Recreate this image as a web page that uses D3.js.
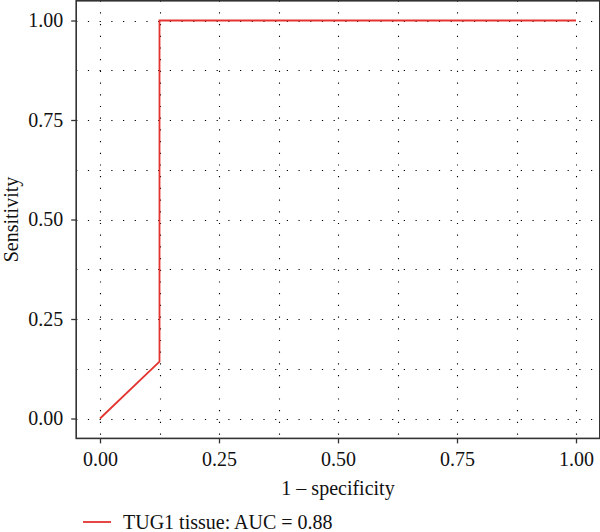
<!DOCTYPE html>
<head>
  <meta charset="utf-8">
  <script src="https://cdn.jsdelivr.net/npm/d3@7"></script>
  <style>
    body { margin: 0; background: #fff; }
    text { font-family: "Liberation Serif", "Times New Roman", serif; fill: #111; }
  </style>
</head>
<body>

<svg width="600" height="532"></svg>

<script type="text/javascript">
// ROC points
var fpr = [0, 0.125, 0.125, 1];
var tpr = [0, 0.143, 1, 1];
var tickValues = [0, 0.25, 0.5, 0.75, 1];
var gridValues = [0, 0.125, 0.25, 0.375, 0.5, 0.625, 0.75, 0.875, 1];
var seriesName = "TUG1 tissue: AUC = 0.88";
var xTitle = "1 \u2013 specificity", yTitle = "Sensitivity";

var lineColor = "#e3342f", frameColor = "#333";

var svg = d3.select("svg");

// scales: data 0..1, panel padded by 5% like ggplot
var x = d3.scaleLinear().domain([0, 1]).range([100, 576]);
var y = d3.scaleLinear().domain([0, 1]).range([418.5, 20.5]);
var x0 = x(-0.05), x1 = x(1.05), y0 = y(-0.05), y1 = y(1.05);

// dotted grid, majors and minors alike
var grid = svg.append("g")
  .attr("stroke", "#000")
  .attr("stroke-width", 1.1)
  .attr("stroke-dasharray", "1.2 10.5");

grid.selectAll("line.v").data(gridValues).enter().append("line")
  .attr("x1", function(d) { return Math.round(x(d)) + 0.5; })
  .attr("x2", function(d) { return Math.round(x(d)) + 0.5; })
  .attr("y1", y1).attr("y2", y0);

grid.selectAll("line.h").data(gridValues).enter().append("line")
  .attr("y1", function(d) { return Math.round(y(d)) + 0.5; })
  .attr("y2", function(d) { return Math.round(y(d)) + 0.5; })
  .attr("x1", x0).attr("x2", x1);

// the ROC curve
var line = d3.line()
  .x(function(d, i) { return x(fpr[i]); })
  .y(function(d, i) { return y(tpr[i]); });

svg.append("path")
  .datum(fpr)
  .attr("d", line)
  .attr("fill", "none")
  .attr("stroke", lineColor)
  .attr("stroke-width", 1.8);

// panel frame
svg.append("rect")
  .attr("x", x0).attr("y", Math.max(y1, 0.8))
  .attr("width", x1 - x0).attr("height", y0 - Math.max(y1, 0.8))
  .attr("fill", "none")
  .attr("stroke", frameColor)
  .attr("stroke-width", 1.6);

// axes
var xAxis = svg.append("g")
  .attr("transform", "translate(0," + y0 + ")")
  .call(d3.axisBottom(x).tickValues(tickValues).tickFormat(d3.format(".2f")).tickSize(5).tickPadding(8));

var yAxis = svg.append("g")
  .attr("transform", "translate(" + x0 + ",0)")
  .call(d3.axisLeft(y).tickValues(tickValues).tickFormat(d3.format(".2f")).tickSize(5).tickPadding(8));

[xAxis, yAxis].forEach(function(a) {
  a.select(".domain").remove();
  a.selectAll(".tick line").attr("stroke", frameColor).attr("stroke-width", 1.3);
  a.selectAll(".tick text")
    .style("font-family", "'Liberation Serif', serif")
    .style("font-size", "20px")
    .attr("fill", "#111");
});

// titles
svg.append("text")
  .attr("x", (x0 + x1) / 2)
  .attr("y", 495)
  .attr("text-anchor", "middle")
  .style("font-size", "20px")
  .text(xTitle);

svg.append("text")
  .attr("transform", "translate(18," + (y0 + y1) / 2 + ") rotate(-90)")
  .attr("text-anchor", "middle")
  .style("font-size", "20px")
  .text(yTitle);

// legend
var legend = svg.append("g").attr("transform", "translate(0,522)");
legend.append("line")
  .attr("x1", 83).attr("x2", 111)
  .attr("stroke", lineColor)
  .attr("stroke-width", 1.8);
legend.append("text")
  .attr("x", 123)
  .attr("y", 7)
  .style("font-size", "20px")
  .text(seriesName);
</script>
</body>
</html>
